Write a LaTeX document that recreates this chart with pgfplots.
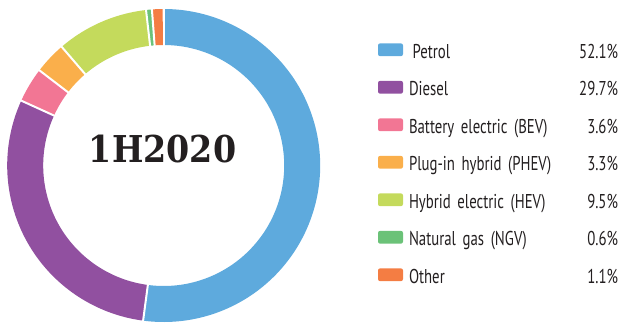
\documentclass[border=0pt]{standalone}
\usepackage{pgfplots}
\pgfplotsset{compat=1.18}
\usepgfplotslibrary{polar}
\usepackage{fontspec}
\setmainfont{PT Sans}[FakeStretch=0.74]
\newfontfamily\titlefont{DejaVu Serif}[FakeStretch=0.9]
\definecolor{cpetrol}{HTML}{5EAADD}
\definecolor{cdiesel}{HTML}{9150A0}
\definecolor{cbev}{HTML}{F27694}
\definecolor{cphev}{HTML}{FAAF4B}
\definecolor{chev}{HTML}{C4DA5C}
\definecolor{cngv}{HTML}{6BC278}
\definecolor{cother}{HTML}{F47D43}
\definecolor{ink}{HTML}{231F20}
\begin{document}
\begin{tikzpicture}
\useasboundingbox (0,0) rectangle (620pt,322pt);
\begin{polaraxis}[
  at={(7.2pt,0pt)}, anchor=south west,
  scale only axis, width=313pt, height=313pt,
  xmin=0, xmax=360, ymin=0, ymax=1,
  hide axis, clip=false,
  legend image code/.code={\fill[#1, draw=none, line width=0pt, rounded corners=2pt] (0pt,-6.35pt) rectangle (25pt,6.35pt);
    \path[draw=none, line width=0pt] (31pt,0pt);},
  legend style={at={(1.1847,0.9297)}, anchor=north west, draw=none, fill=none,
    inner sep=0pt, outer sep=0pt, row sep=0pt, column sep=0pt,
    font=\fontsize{20pt}{22pt}\selectfont, text=ink,
    nodes={inner sep=0pt, text width=209pt, text height=27.4pt, text depth=10.1pt}},
  legend cell align=left,
]
\addplot[cpetrol, line width=36pt, domain=-97.56:90, samples=120] {0.885};
\addlegendentry{\hspace{3.5pt}Petrol\hfill 52.1\%}
\addplot[cdiesel, line width=36pt, domain=-204.48:-97.56, samples=80] {0.885};
\addlegendentry{Diesel\hfill 29.7\%}
\addplot[cbev, line width=36pt, domain=-217.44:-204.48, samples=15] {0.885};
\addlegendentry{Battery electric (BEV)\hfill 3.6\%}
\addplot[cphev, line width=36pt, domain=-229.32:-217.44, samples=15] {0.885};
\addlegendentry{Plug-in hybrid (PHEV)\hfill 3.3\%}
\addplot[chev, line width=36pt, domain=-263.52:-229.32, samples=30] {0.885};
\addlegendentry{Hybrid electric (HEV)\hfill 9.5\%}
\addplot[cngv, line width=36pt, domain=-265.68:-263.52, samples=5] {0.885};
\addlegendentry{Natural gas (NGV)\hfill 0.6\%}
\addplot[cother, line width=36pt, domain=-269.64:-265.68, samples=5] {0.885};
\addlegendentry{Other\hfill 1.1\%}
% white separators
\addplot[white, line width=2pt, forget plot] coordinates {(90,0.74) (90,1.02)};
\addplot[white, line width=2pt, forget plot] coordinates {(-97.56,0.74) (-97.56,1.02)};
\addplot[white, line width=2pt, forget plot] coordinates {(-204.48,0.74) (-204.48,1.02)};
\addplot[white, line width=2pt, forget plot] coordinates {(-217.44,0.74) (-217.44,1.02)};
\addplot[white, line width=2pt, forget plot] coordinates {(-229.32,0.74) (-229.32,1.02)};
\addplot[white, line width=2pt, forget plot] coordinates {(-263.52,0.74) (-263.52,1.02)};
\addplot[white, line width=2pt, forget plot] coordinates {(-265.68,0.74) (-265.68,1.02)};
\end{polaraxis}
\node[font=\titlefont\bfseries\fontsize{37pt}{40pt}\selectfont, text=ink, anchor=base, inner sep=0pt] at (162.5pt,160pt) {1H2020};
\end{tikzpicture}
\end{document}
